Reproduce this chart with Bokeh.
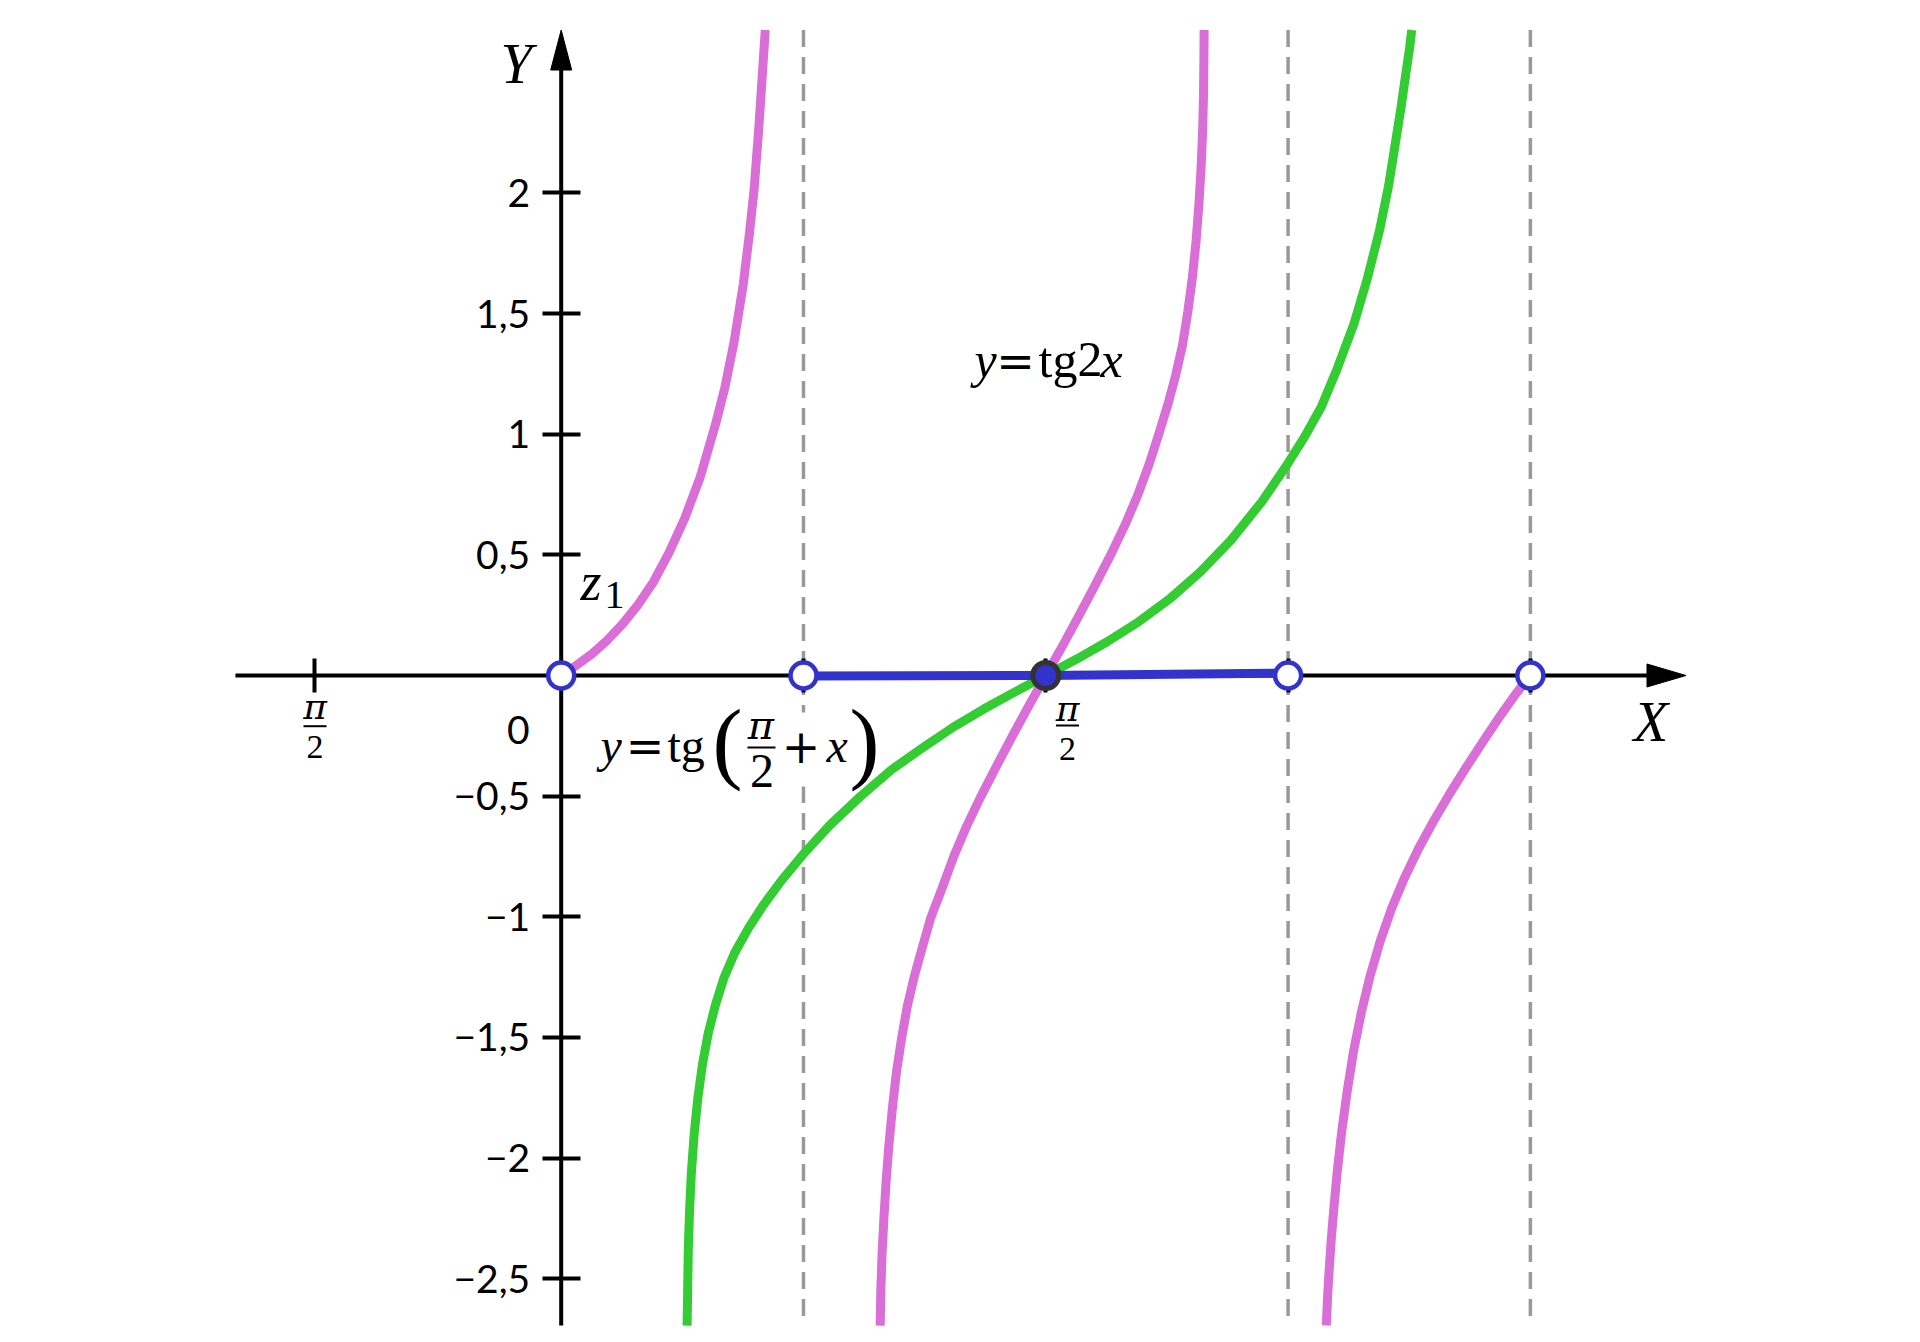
import numpy as np
from bokeh.plotting import figure
from bokeh.models import Range1d, LinearAxis, FixedTicker
from bokeh.core.properties import value
from bokeh.embed import file_html
from bokeh.resources import INLINE

PI = np.pi

# ---------------- data ----------------
Y_TICKS = [2.0, 1.5, 1.0, 0.5, -0.5, -1.0, -1.5, -2.0, -2.5]
Y_TICK_LABELS = ["2", "1,5", "1", "0,5", "\u22120,5", "\u22121", "\u22121,5", "\u22122", "\u22122,5"]
X_TICKS = [-0.8, PI / 4, PI / 2, 3 * PI / 4, PI]
ASYMPTOTES = [PI / 4, 3 * PI / 4, PI]

# y = tg 2x : three visible branches (pink)
PINK1_X = [0.0, 0.05, 0.10, 0.15, 0.20, 0.25, 0.30, 0.35, 0.40, 0.45, 0.50, 0.53, 0.56, 0.59,
           0.61, 0.625, 0.64, 0.652, 0.6615]
PINK1_Y = [0.0, 0.043, 0.09, 0.147, 0.215, 0.295, 0.39, 0.51, 0.65, 0.82, 1.04, 1.19, 1.38, 1.62,
           1.83, 2.01, 2.26, 2.49, 2.675]

PINK2_X = [1.034, 1.036, 1.040, 1.046, 1.053, 1.062, 1.073, 1.086, 1.103, 1.122, 1.145, 1.170,
           1.198, 1.235, 1.274, 1.314, 1.358, 1.410, 1.462, 1.516, 1.5708,
           1.626, 1.680, 1.732, 1.784, 1.828, 1.868, 1.907, 1.938, 1.968, 1.992, 2.014, 2.031,
           2.046, 2.058, 2.067, 2.074, 2.079, 2.082, 2.0833, 2.084]
PINK2_Y = [-2.694, -2.55, -2.40, -2.25, -2.10, -1.95, -1.80, -1.65, -1.506, -1.37, -1.245, -1.13,
           -1.004, -0.88, -0.745, -0.625, -0.507, -0.378, -0.252, -0.125, 0.0,
           0.125, 0.252, 0.378, 0.507, 0.625, 0.745, 0.88, 1.004, 1.13, 1.245, 1.37, 1.506,
           1.65, 1.80, 1.95, 2.10, 2.25, 2.40, 2.55, 2.675]

PINK3_X = [2.480, 2.484, 2.489, 2.496, 2.505, 2.516, 2.530, 2.547, 2.568, 2.593, 2.622, 2.655,
           2.692, 2.733, 2.778, 2.827, 2.880, 2.935, 2.990, 3.045, 3.095, 3.1416]
PINK3_Y = [-2.694, -2.58, -2.47, -2.34, -2.20, -2.05, -1.89, -1.73, -1.56, -1.40, -1.245, -1.10,
           -0.965, -0.84, -0.72, -0.605, -0.49, -0.378, -0.27, -0.165, -0.075, 0.0]

# y = tg(pi/2 + x) (green)
GREEN_X = [0.408, 0.410, 0.412, 0.416, 0.422, 0.431, 0.443, 0.458, 0.477, 0.500, 0.527, 0.562,
           0.608, 0.655, 0.715, 0.785, 0.871, 0.971, 1.071, 1.171, 1.271, 1.371, 1.471, 1.5708,
           1.671, 1.771, 1.871, 1.971, 2.071, 2.171, 2.271, 2.356, 2.410, 2.464, 2.515,
           2.569, 2.612, 2.653, 2.682, 2.706, 2.723, 2.738, 2.750, 2.757]
GREEN_Y = [-2.694, -2.54, -2.38, -2.22, -2.06, -1.90, -1.75, -1.61, -1.48, -1.365, -1.255, -1.15,
           -1.045, -0.952, -0.848, -0.74, -0.62, -0.50, -0.39, -0.30, -0.214, -0.138, -0.068, 0.0,
           0.068, 0.141, 0.222, 0.316, 0.428, 0.561, 0.72, 0.88, 0.99, 1.114, 1.27,
           1.455, 1.64, 1.847, 2.03, 2.222, 2.36, 2.495, 2.60, 2.675]

# blue segment lying on the x axis
BLUE_X = [0.7854, 1.5708, 2.3562]
BLUE_Y = [-0.002, 0.0, 0.010]

HOLLOW_X = [0.0, 0.7854, 2.3562, 3.1416]
HOLLOW_Y = [0.0, 0.0, 0.0, 0.0]
DOT_X = [1.5708]
DOT_Y = [0.0]

# axis extents (data units)
X_MIN, X_MAX = -1.056, 3.646
Y_MIN, Y_MAX = -2.694, 2.675

# ---------------- layout ----------------
W, H = 1904, 1326
OX, OY = 560.7, 675.0        # origin, page pixels
PX, PY = 308.5, 241.3        # pixels per data unit
BASE_FIX = 0.34              # svg text baseline correction (in em)


def sx(px):
    return (px - OX) / PX


def sy(py):
    return (OY - py) / PY


PINK = "#d86ed6"
GREEN = "#33cc33"
BLUE = "#3333cc"
SERIF = "Liberation Serif"
MATH = "DejaVu Serif"

p = figure(width=W, height=H, output_backend="svg", toolbar_location=None,
           x_range=Range1d(sx(0), sx(W)), y_range=Range1d(sy(H), sy(0)),
           x_axis_type=None, y_axis_type=None, min_border=0)
p.outline_line_color = None
p.background_fill_color = "white"
p.border_fill_color = "white"

# dashed asymptotes
p.segment(x0=ASYMPTOTES, y0=[Y_MAX] * 3, x1=ASYMPTOTES, y1=[Y_MIN] * 3,
          line_color="#999999", line_width=3.5, line_dash="17 10")

# white box behind the formula label
p.quad(left=[sx(590)], right=[sx(878)], top=[sy(712)], bottom=[sy(786)],
       fill_color="white", line_color=None)

# axis lines and arrow heads
HX, HXW = 39 / PX, 11.5 / PY
HY, HYW = 40 / PY, 10.5 / PX
p.segment(x0=[X_MIN, 0], y0=[0, Y_MIN], x1=[X_MAX - HX, 0], y1=[0, Y_MAX - HY],
          line_color="black", line_width=4)
p.patches(xs=[[X_MAX, X_MAX - HX, X_MAX - HX], [0, -HYW, HYW]],
          ys=[[0, HXW, -HXW], [Y_MAX, Y_MAX - HY, Y_MAX - HY]],
          fill_color="black", line_color="black", line_width=1)

yax = LinearAxis(fixed_location=0, ticker=FixedTicker(ticks=Y_TICKS),
                 major_label_overrides=dict(zip(Y_TICKS, Y_TICK_LABELS)),
                 axis_line_color=None, major_tick_in=19, major_tick_out=19,
                 major_tick_line_width=4, major_tick_line_color="black",
                 minor_tick_line_color=None,
                 major_label_text_font="Lato", major_label_text_font_size="39px",
                 major_label_text_color="black", major_label_standoff=12)
p.add_layout(yax, "left")

xax = LinearAxis(fixed_location=0, ticker=FixedTicker(ticks=X_TICKS),
                 major_label_overrides={t: "" for t in X_TICKS},
                 axis_line_color=None, major_tick_in=17, major_tick_out=17,
                 major_tick_line_width=4, major_tick_line_color="black",
                 minor_tick_line_color=None)
p.add_layout(xax, "below")

# curves
for xs, ys, c in [(PINK1_X, PINK1_Y, PINK), (PINK2_X, PINK2_Y, PINK), (PINK3_X, PINK3_Y, PINK),
                  (GREEN_X, GREEN_Y, GREEN)]:
    p.line(xs, ys, line_color=c, line_width=9, line_join="round")
p.line(BLUE_X, BLUE_Y, line_color=BLUE, line_width=9)

# points
p.scatter(HOLLOW_X, HOLLOW_Y, size=26, fill_color="white", line_color=BLUE,
          line_width=4.5, level="overlay")
p.scatter(DOT_X, DOT_Y, size=26, fill_color=BLUE, line_color="#333333",
          line_width=5, level="overlay")


# texts (px, py = left/centre x and baseline y, in page pixels)
def txt(px, py, s, size, font=SERIF, style="normal", align="left"):
    p.text(x=[sx(px)], y=[sy(py - BASE_FIX * size)], text=[s], text_font=value(font),
           text_font_style=style, text_font_size=f"{size}px", text_align=align,
           text_baseline="alphabetic", text_color="black", level="overlay")


def bar(px0, px1, py):
    p.segment(x0=[sx(px0)], y0=[sy(py)], x1=[sx(px1)], y1=[sy(py)],
              line_color="black", line_width=2, level="overlay")


txt(500, 82, "Y", 57, style="italic")
txt(1633, 740, "X", 57, style="italic")
txt(529, 743, "0", 39, font="Lato", align="right")
txt(580, 600, "z", 54, style="italic")
txt(604, 608, "1", 40)

# y = tg2x
txt(974, 376, "y", 50, style="italic")
txt(1015, 376, "=", 46, font=MATH, align="center")
txt(1038, 376, "tg", 50)
txt(1077, 376, "2", 50)
txt(1100, 376, "x", 50, style="italic")

# y = tg(pi/2 + x)
txt(600, 761, "y", 48, style="italic")
txt(644.5, 761, "=", 46, font=MATH, align="center")
txt(667, 761, "tg", 48)
txt(712, 772, "(", 90)
txt(760.5, 738, "\u03c0", 40, font=MATH, style="italic", align="center")
bar(747, 775, 747)
txt(761.5, 787, "2", 48, align="center")
txt(800.5, 761, "+", 46, font=MATH, align="center")
txt(826, 761, "x", 48, style="italic")
txt(849, 772, ")", 90)

# fractions under the x ticks
txt(314.5, 718.5, "\u03c0", 36, font=MATH, style="italic", align="center")
bar(303, 326, 725.7)
txt(314.5, 758.5, "2", 34, align="center")

txt(1067, 720, "\u03c0", 36, font=MATH, style="italic", align="center")
bar(1055.5, 1078.5, 725)
txt(1067, 760, "2", 34, align="center")

open("out.html", "w").write(file_html(p, INLINE))
